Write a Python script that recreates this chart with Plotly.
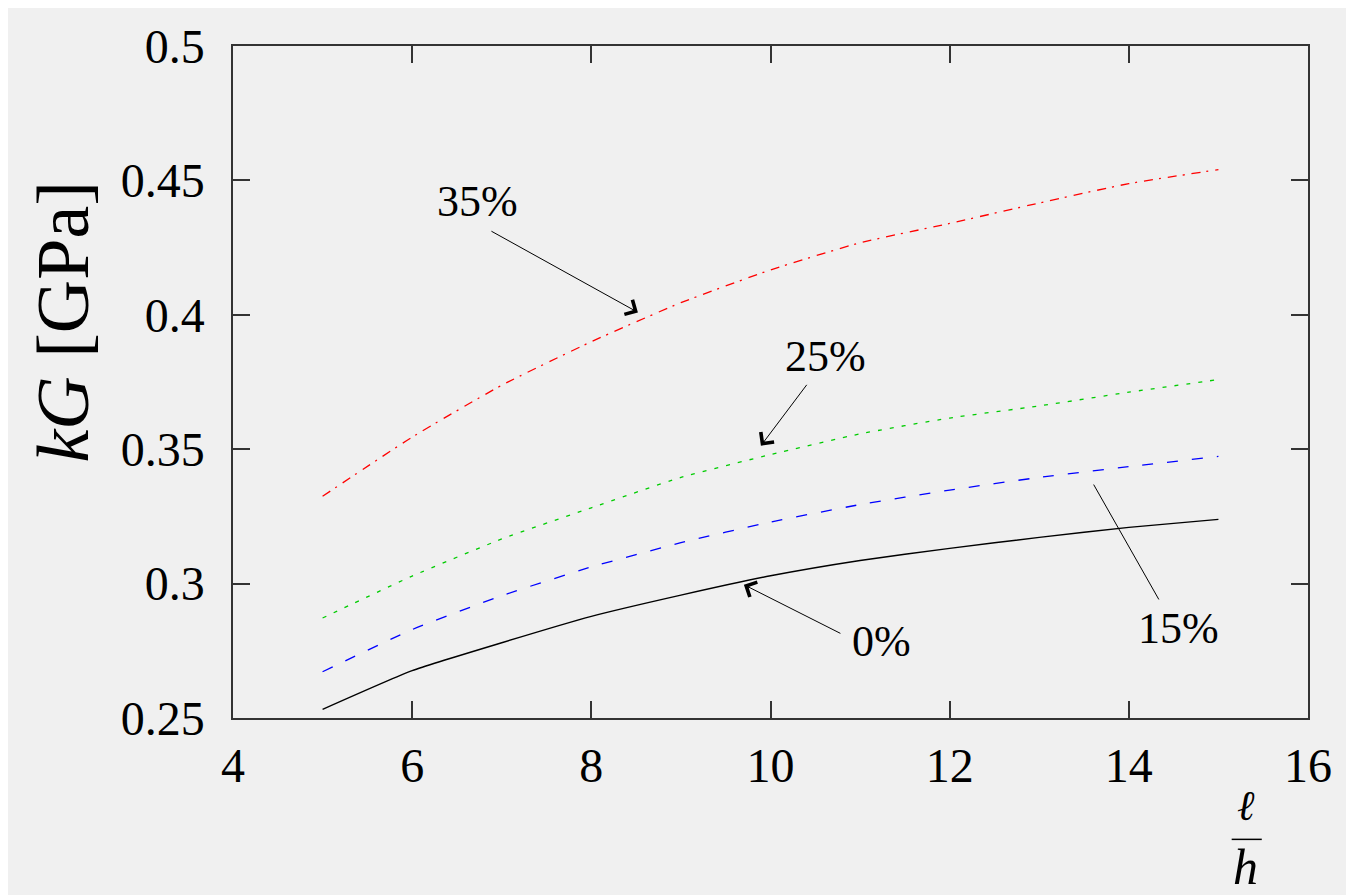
import plotly.graph_objects as go

# ---- data ----
ratio = [5, 6, 7, 8, 9, 10, 11, 12, 13, 14, 15]
kg_0 = [0.2532, 0.2676, 0.2780, 0.2878, 0.2957, 0.3029, 0.3086, 0.3131, 0.3172, 0.3209, 0.3239]
kg_15 = [0.2672, 0.2829, 0.2955, 0.3062, 0.3152, 0.3229, 0.3294, 0.3348, 0.3395, 0.3435, 0.3473]
kg_25 = [0.2872, 0.3028, 0.3166, 0.3282, 0.3395, 0.3480, 0.3557, 0.3616, 0.3661, 0.3712, 0.3759]
kg_35 = [0.3325, 0.3545, 0.3738, 0.3900, 0.4045, 0.4167, 0.4268, 0.4340, 0.4416, 0.4488, 0.4540]

x_ticks = [4, 6, 8, 10, 12, 14, 16]
y_ticks = [0.25, 0.30, 0.35, 0.40, 0.45, 0.50]
y_tick_text = ["0.25", "0.3", "0.35", "0.4", "0.45", "0.5"]

labels = ["0%", "15%", "25%", "35%"]
# label text position, arrow tail, arrow head (data units)
label_text_pos = [(11.243, 0.2783), (14.558, 0.2834), (10.618, 0.3844), (6.734, 0.4420)]
arrow_tail = [(10.797, 0.2812), (13.598, 0.3374), (10.417, 0.3745), (6.868, 0.4314)]
arrow_head = [(9.703, 0.2996), (14.335, 0.2941), (9.893, 0.3513), (8.52, 0.4009)]
arrow_style = [4, 0, 4, 4]

BG = "#f0f0f0"
FONT = "Liberation Serif"

fig = go.Figure()
series = [
    (kg_0, "black", "solid", 1.4),
    (kg_15, "#0000ff", "11px,14px", 1.3),
    (kg_25, "#00cc00", "4px,8px", 1.3),
    (kg_35, "#ff0000", "9px,6px,2px,7px", 1.3),
]
for vals, col, dash, w in series:
    fig.add_trace(go.Scatter(x=ratio, y=vals, mode="lines",
                             line=dict(color=col, width=w, dash=dash, shape="spline", smoothing=0.5),
                             showlegend=False, hoverinfo="skip"))

annotations = []
for lab, tp, tail, head, ah in zip(labels, label_text_pos, arrow_tail, arrow_head, arrow_style):
    annotations.append(dict(x=tp[0], y=tp[1], xref="x", yref="y", text=lab, showarrow=False,
                            xanchor="center", yanchor="middle",
                            font=dict(family=FONT, size=44, color="black")))
    annotations.append(dict(x=head[0], y=head[1], ax=tail[0], ay=tail[1], xref="x", yref="y",
                            axref="x", ayref="y", text="", showarrow=True, arrowhead=ah,
                            arrowsize=3.2, arrowwidth=1.0, arrowcolor="black", standoff=0))

# axis titles
annotations.append(dict(x=-0.159, y=0.59, xref="paper", yref="paper", text="<i>kG</i> [GPa]",
                        xanchor="center", yanchor="middle",
                        textangle=-90, showarrow=False, font=dict(family=FONT, size=74, color="black")))
annotations.append(dict(x=0.9423, y=-0.1307, xref="paper", yref="paper", text="<i>ℓ</i>",
                        xanchor="center", yanchor="middle",
                        showarrow=False, font=dict(family=FONT, size=42, color="black")))
annotations.append(dict(x=0.9423, y=-0.2217, xref="paper", yref="paper", text="<i>h</i>",
                        xanchor="center", yanchor="middle",
                        showarrow=False, font=dict(family=FONT, size=50, color="black")))

fig.update_layout(
    width=1354, height=895,
    margin=dict(l=225, r=54, t=29, b=185),
    paper_bgcolor=BG, plot_bgcolor=BG,
    annotations=annotations,
    shapes=[dict(type="line", xref="paper", yref="paper", x0=0.929, x1=0.957, y0=-0.1806, y1=-0.1806,
                 line=dict(color="black", width=1.5))],
)
axis_common = dict(showline=True, linecolor="#333333", linewidth=1.5, mirror="ticks",
                   ticks="inside", ticklen=17, tickwidth=1.5, tickcolor="#333333",
                   showgrid=False, zeroline=False,
                   tickfont=dict(family=FONT, size=48, color="black"))
fig.update_xaxes(range=[4, 16], tickvals=x_ticks, ticklabelstandoff=5, **axis_common)
fig.update_yaxes(range=[0.25, 0.5], tickvals=y_ticks, ticktext=y_tick_text, ticklabelstandoff=17, **axis_common)

fig.write_html("out.html")
